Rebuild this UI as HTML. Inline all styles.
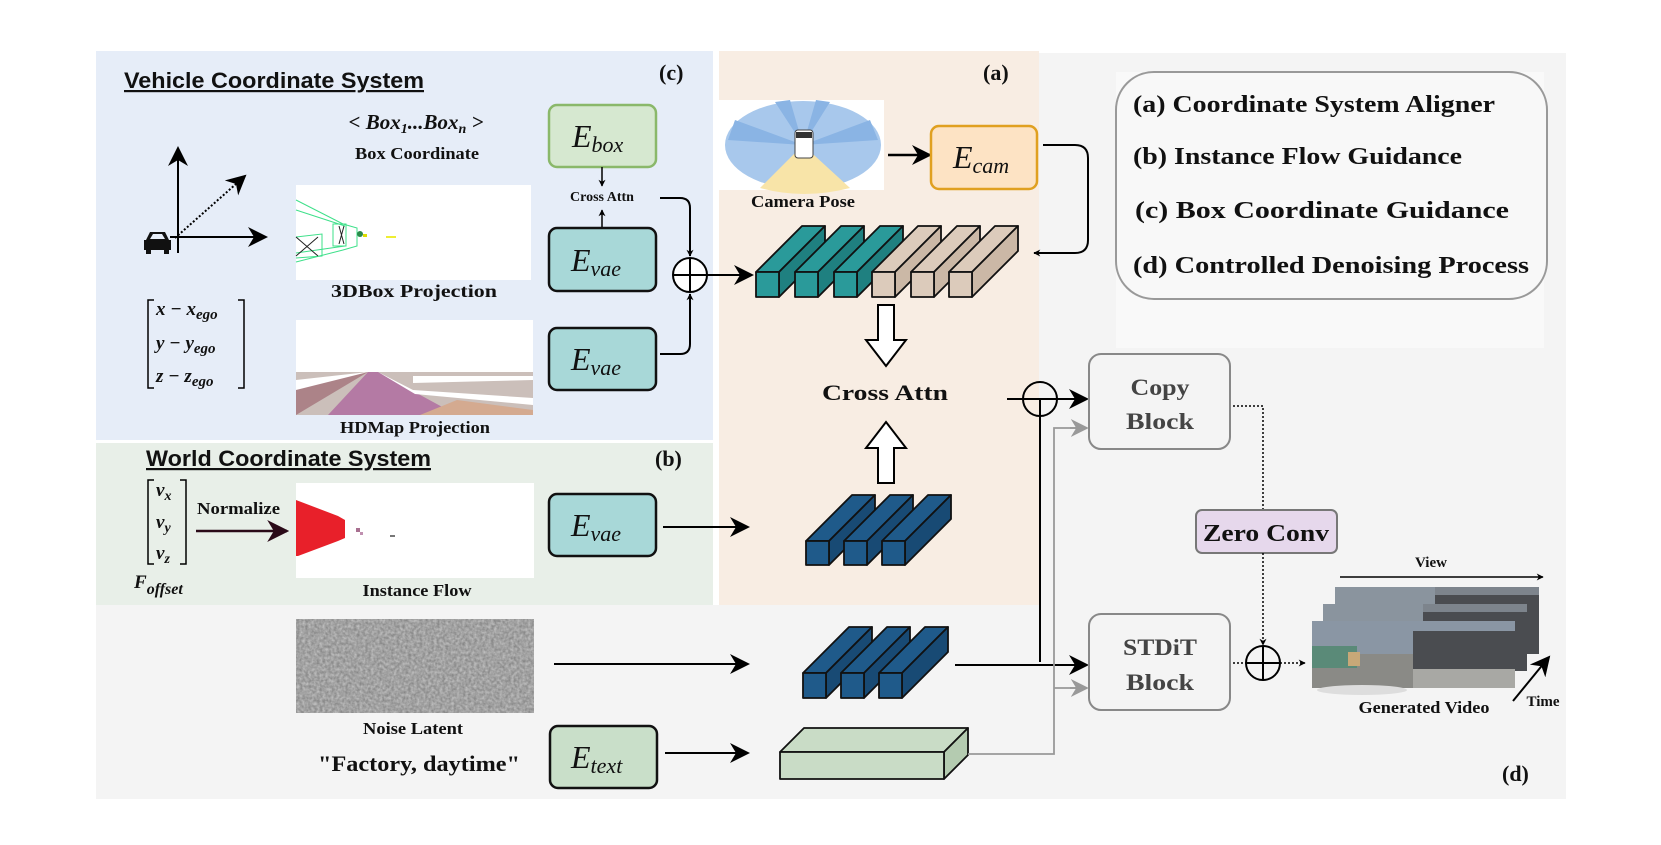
<!DOCTYPE html>
<html><head><meta charset="utf-8"><style>
html,body{margin:0;padding:0;background:#fff;}
svg{display:block;}
text{font-family:"Liberation Serif",serif;font-weight:bold;fill:#111;}
.e{font-style:italic;font-weight:normal;font-size:32px;}
.s{font-family:"Liberation Sans",sans-serif;font-weight:bold;text-decoration:underline;font-size:22px;}
</style></head><body>
<svg width="1661" height="845" viewBox="0 0 1661 845" xmlns="http://www.w3.org/2000/svg">
<defs>
<marker id="ar" viewBox="0 0 10 10" refX="9" refY="5" markerWidth="7" markerHeight="7" orient="auto" markerUnits="userSpaceOnUse"><path d="M0,0 L10,5 L0,10 L3,5z" fill="#000"/></marker>
<marker id="ab" viewBox="0 0 10 10" refX="9" refY="5" markerWidth="20" markerHeight="20" orient="auto" markerUnits="userSpaceOnUse"><path d="M0,0 L10,5 L0,10 L3,5z" fill="#000"/></marker>
<marker id="ag" viewBox="0 0 10 10" refX="9" refY="5" markerWidth="18" markerHeight="18" orient="auto" markerUnits="userSpaceOnUse"><path d="M0,0 L10,5 L0,10 L3,5z" fill="#999"/></marker>
<marker id="am" viewBox="0 0 10 10" refX="9" refY="5" markerWidth="22" markerHeight="22" orient="auto" markerUnits="userSpaceOnUse"><path d="M0,0 L10,5 L0,10 L3,5z" fill="#2a0a18"/></marker>
<filter id="nz" x="0" y="0" width="100%" height="100%"><feTurbulence type="fractalNoise" baseFrequency="0.35" numOctaves="2" seed="3"/><feColorMatrix type="matrix" values="0 0 0 0 0.5  0 0 0 0 0.5  0 0 0 0 0.5  1.6 0 0 0 -0.3"/></filter>
</defs>

<rect x="1039" y="53" width="527" height="746" fill="#f4f4f4"/>
<rect x="96" y="605" width="943" height="194" fill="#f4f4f4"/>
<rect x="96" y="51" width="617" height="389" fill="#e6edf8"/>
<rect x="96" y="443" width="617" height="162" fill="#e8efe8"/>
<rect x="719" y="51" width="320" height="554" fill="#f8ede3"/>
<rect x="1116" y="72" width="428" height="276" fill="#f9f9f9"/>
<rect x="1116" y="72" width="431" height="227" rx="38" fill="#f8f8f8" stroke="#999" stroke-width="2"/>

<text x="1133" y="112" font-size="24" textLength="362" lengthAdjust="spacingAndGlyphs">(a) Coordinate System Aligner</text>
<text x="1133" y="164" font-size="24" textLength="329" lengthAdjust="spacingAndGlyphs">(b) Instance Flow Guidance</text>
<text x="1135" y="218" font-size="24" textLength="374" lengthAdjust="spacingAndGlyphs">(c) Box Coordinate Guidance</text>
<text x="1133" y="273" font-size="24" textLength="396" lengthAdjust="spacingAndGlyphs">(d) Controlled Denoising Process</text>

<text x="124" y="88" class="s" textLength="300" lengthAdjust="spacingAndGlyphs">Vehicle Coordinate System</text>
<text x="146" y="466" class="s" textLength="285" lengthAdjust="spacingAndGlyphs">World Coordinate System</text>
<text x="659" y="80" font-size="22">(c)</text>
<text x="655" y="466" font-size="22">(b)</text>
<text x="983" y="80" font-size="22">(a)</text>
<text x="1502" y="781" font-size="22">(d)</text>

<line x1="178" y1="253" x2="178" y2="148" stroke="#000" stroke-width="2" marker-end="url(#ab)"/>
<line x1="170" y1="237" x2="266" y2="237" stroke="#000" stroke-width="2" marker-end="url(#ab)"/>
<line x1="175" y1="238" x2="245" y2="176" stroke="#000" stroke-width="2" stroke-dasharray="2,2" marker-end="url(#ab)"/>
<g fill="#111"><path d="M146,240 L150,232 L165,232 L169,240 L171,240 L171,250 L144,250 L144,240z"/><rect x="146" y="250" width="5" height="4"/><rect x="164" y="250" width="5" height="4"/></g>
<path d="M150,239 L153,234 L162,234 L165,239z" fill="#e6edf8"/>

<path d="M154,300 h-6 v88 h6 M238,300 h6 v88 h-6" fill="none" stroke="#000" stroke-width="1.5"/>
<g font-style="italic">
<text x="156" y="315" font-weight="normal" font-size="19">x − x<tspan font-size="15" dy="4">ego</tspan></text>
<text x="156" y="349" font-weight="normal" font-size="19">y − y<tspan font-size="15" dy="4">ego</tspan></text>
<text x="156" y="382" font-weight="normal" font-size="19">z − z<tspan font-size="15" dy="4">ego</tspan></text>
</g>
<path d="M154,480 h-6 v84 h6 M180,480 h6 v84 h-6" fill="none" stroke="#000" stroke-width="1.5"/>
<g font-style="italic">
<text x="156" y="496" font-weight="normal" font-size="19">v<tspan font-size="14" dy="4">x</tspan></text>
<text x="156" y="528" font-weight="normal" font-size="19">v<tspan font-size="14" dy="4">y</tspan></text>
<text x="156" y="559" font-weight="normal" font-size="19">v<tspan font-size="14" dy="4">z</tspan></text>
<text x="134" y="588" font-weight="normal" font-size="19">F<tspan font-size="16" dy="6">offset</tspan></text>
</g>
<text x="197" y="514" font-size="17" textLength="83" lengthAdjust="spacingAndGlyphs">Normalize</text>
<line x1="196" y1="531" x2="287" y2="531" stroke="#2a0a18" stroke-width="2.5" marker-end="url(#am)"/>

<text x="416" y="129" font-size="21" font-style="italic" font-weight="normal" text-anchor="middle">&lt; Box<tspan font-size="14" dy="4">1</tspan><tspan dy="-4">...Box</tspan><tspan font-size="14" dy="4">n</tspan><tspan dy="-4"> &gt;</tspan></text>
<text x="417" y="159" font-size="17" text-anchor="middle" textLength="124" lengthAdjust="spacingAndGlyphs">Box Coordinate</text>

<rect x="296" y="185" width="235" height="95" fill="#fff"/>
<g stroke="#3ee08a" stroke-width="1" fill="none">
<path d="M296,200 L343,224 L357,228 L357,246 L343,250 L296,262"/>
<path d="M296,210 L345,226 M296,253 L345,246 M296,237 L322,234 L322,256 L296,258"/>
<rect x="333" y="224" width="13" height="22"/>
</g>
<path d="M296,237 L318,256 M296,256 L318,237 M339,226 L344,244 M344,226 L339,244" stroke="#222" stroke-width="1"/>
<circle cx="360" cy="234" r="3" fill="#2a8a4a"/><rect x="363" y="234" width="4" height="3" fill="#dd0"/>
<rect x="386" y="236" width="10" height="2" fill="#ee3"/>
<text x="414" y="297" font-size="18" text-anchor="middle" textLength="166" lengthAdjust="spacingAndGlyphs">3DBox Projection</text>

<rect x="296" y="320" width="237" height="95" fill="#fff"/>
<path d="M296,372 L533,372 L533,415 L296,415z" fill="#cbbfba"/>
<path d="M296,382 L368,372 L296,415z" fill="#ac8388"/>
<path d="M296,380 L368,372 L296,390z" fill="#fff"/>
<path d="M328,415 L368,372 L378,372 L457,415z" fill="#b47aa4"/>
<path d="M420,415 L457,400 L533,410 L533,415z" fill="#d4aa90"/>
<path d="M378,372 L413,390 L533,398 L533,405 L415,394z" fill="#fff"/>
<path d="M413,376 L533,376 L533,380 L413,383z" fill="#fff"/>
<text x="415" y="433" font-size="17" text-anchor="middle" textLength="150" lengthAdjust="spacingAndGlyphs">HDMap Projection</text>

<rect x="296" y="483" width="238" height="95" fill="#fff"/>
<path d="M296,500 L338,516 L345,520 L345,538 L338,541 L298,556 L296,556z" fill="#e8202a"/>
<rect x="356" y="528" width="4" height="4" fill="#a87090"/><rect x="360" y="532" width="3" height="3" fill="#c090b0"/>
<rect x="390" y="535" width="5" height="2" fill="#777"/>
<text x="417" y="596" font-size="17" text-anchor="middle" textLength="109" lengthAdjust="spacingAndGlyphs">Instance Flow</text>

<rect x="296" y="619" width="238" height="94" fill="#888"/>
<rect x="296" y="619" width="238" height="94" filter="url(#nz)"/>
<text x="413" y="734" font-size="17" text-anchor="middle" textLength="100" lengthAdjust="spacingAndGlyphs">Noise Latent</text>
<text x="419" y="771" font-size="22" text-anchor="middle" textLength="202" lengthAdjust="spacingAndGlyphs">"Factory, daytime"</text>

<rect x="549" y="105" width="107" height="62" rx="8" fill="#d6e8d0" stroke="#8ab86a" stroke-width="2.5"/>
<text x="572" y="147" class="e">E<tspan font-size="22" dy="5">box</tspan></text>
<line x1="602" y1="167" x2="602" y2="186" stroke="#000" stroke-width="1.5" marker-end="url(#ar)"/>
<text x="602" y="201" font-size="14" text-anchor="middle">Cross Attn</text>
<line x1="602" y1="228" x2="602" y2="210" stroke="#000" stroke-width="1.5" marker-end="url(#ar)"/>
<rect x="549" y="228" width="107" height="63" rx="8" fill="#a8d8d8" stroke="#111" stroke-width="2.5"/>
<text x="571" y="271" class="e">E<tspan font-size="22" dy="5">vae</tspan></text>
<rect x="549" y="328" width="107" height="62" rx="8" fill="#a8d8d8" stroke="#111" stroke-width="2.5"/>
<text x="571" y="370" class="e">E<tspan font-size="22" dy="5">vae</tspan></text>
<rect x="549" y="494" width="107" height="62" rx="8" fill="#a8d8d8" stroke="#111" stroke-width="2.5"/>
<text x="571" y="536" class="e">E<tspan font-size="22" dy="5">vae</tspan></text>
<rect x="550" y="726" width="107" height="62" rx="8" fill="#c9dfc9" stroke="#111" stroke-width="2.5"/>
<text x="571" y="768" class="e">E<tspan font-size="22" dy="5">text</tspan></text>

<path d="M660,198 L680,198 Q690,198 690,208 L690,256" fill="none" stroke="#000" stroke-width="2" marker-end="url(#ar)"/>
<path d="M660,354 L680,354 Q690,354 690,344 L690,294" fill="none" stroke="#000" stroke-width="2" marker-end="url(#ar)"/>
<circle cx="690" cy="275" r="17" fill="#fff" stroke="#000" stroke-width="2"/>
<path d="M673,275 h34 M690,258 v34" stroke="#000" stroke-width="2"/>
<line x1="707" y1="275" x2="752" y2="275" stroke="#000" stroke-width="2" marker-end="url(#ab)"/>
<line x1="663" y1="527" x2="748" y2="527" stroke="#000" stroke-width="2" marker-end="url(#ab)"/>
<line x1="554" y1="664" x2="748" y2="664" stroke="#000" stroke-width="2" marker-end="url(#ab)"/>
<line x1="665" y1="753" x2="748" y2="753" stroke="#000" stroke-width="2" marker-end="url(#ab)"/>

<rect x="718" y="100" width="166" height="90" fill="#fff"/>
<ellipse cx="803" cy="145" rx="78" ry="44" fill="#a8c8ec"/>
<path d="M803,145 L760,188 Q803,200 850,188z" fill="#f8e4a8"/>
<path d="M803,145 L735,120 L728,140z M803,145 L870,120 L878,140z M803,145 L775,102 L790,100z M803,145 L830,102 L816,100z" fill="#8ab4e4"/>
<rect x="795" y="130" width="18" height="28" rx="3" fill="#fff" stroke="#444"/>
<rect x="796" y="132" width="16" height="6" fill="#333"/>
<text x="803" y="207" font-size="17" text-anchor="middle" textLength="104" lengthAdjust="spacingAndGlyphs">Camera Pose</text>
<line x1="888" y1="155" x2="930" y2="155" stroke="#000" stroke-width="2.5" marker-end="url(#ab)"/>
<rect x="931" y="126" width="106" height="63" rx="8" fill="#fde3c4" stroke="#e0a020" stroke-width="2.5"/>
<text x="953" y="168" class="e">E<tspan font-size="22" dy="5">cam</tspan></text>
<path d="M1043,145 L1075,145 Q1088,145 1088,158 L1088,240 Q1088,253 1075,253 L1034,253" fill="none" stroke="#000" stroke-width="2" marker-end="url(#ar)"/>

<g stroke="#111" stroke-width="1.8" stroke-linejoin="round">
<g fill="#2a9a9a"><path d="M756,272 l46,-46 h23 l-46,46z"/><path d="M779,272 l46,-46 v25 l-46,46z" fill="#1f8080"/><rect x="756" y="272" width="23" height="25"/></g>
<g fill="#2a9a9a"><path d="M795,272 l46,-46 h23 l-46,46z"/><path d="M818,272 l46,-46 v25 l-46,46z" fill="#1f8080"/><rect x="795" y="272" width="23" height="25"/></g>
<g fill="#2a9a9a"><path d="M834,272 l46,-46 h23 l-46,46z"/><path d="M857,272 l46,-46 v25 l-46,46z" fill="#1f8080"/><rect x="834" y="272" width="23" height="25"/></g>
<g fill="#dccbbb"><path d="M872,272 l46,-46 h23 l-46,46z"/><path d="M895,272 l46,-46 v25 l-46,46z" fill="#cbb8a6"/><rect x="872" y="272" width="23" height="25"/></g>
<g fill="#dccbbb"><path d="M911,272 l46,-46 h23 l-46,46z"/><path d="M934,272 l46,-46 v25 l-46,46z" fill="#cbb8a6"/><rect x="911" y="272" width="23" height="25"/></g>
<g fill="#dccbbb"><path d="M949,272 l46,-46 h23 l-46,46z"/><path d="M972,272 l46,-46 v25 l-46,46z" fill="#cbb8a6"/><rect x="949" y="272" width="23" height="25"/></g>
<g fill="#1f5a8a"><path d="M806,541 l46,-46 h23 l-46,46z"/><path d="M829,541 l46,-46 v24 l-46,46z" fill="#184a74"/><rect x="806" y="541" width="23" height="24"/></g>
<g fill="#1f5a8a"><path d="M844,541 l46,-46 h23 l-46,46z"/><path d="M867,541 l46,-46 v24 l-46,46z" fill="#184a74"/><rect x="844" y="541" width="23" height="24"/></g>
<g fill="#1f5a8a"><path d="M882,541 l46,-46 h23 l-46,46z"/><path d="M905,541 l46,-46 v24 l-46,46z" fill="#184a74"/><rect x="882" y="541" width="23" height="24"/></g>
<g fill="#1f5a8a"><path d="M803,673 l46,-46 h23 l-46,46z"/><path d="M826,673 l46,-46 v25 l-46,46z" fill="#184a74"/><rect x="803" y="673" width="23" height="25"/></g>
<g fill="#1f5a8a"><path d="M841,673 l46,-46 h23 l-46,46z"/><path d="M864,673 l46,-46 v25 l-46,46z" fill="#184a74"/><rect x="841" y="673" width="23" height="25"/></g>
<g fill="#1f5a8a"><path d="M879,673 l46,-46 h23 l-46,46z"/><path d="M902,673 l46,-46 v25 l-46,46z" fill="#184a74"/><rect x="879" y="673" width="23" height="25"/></g>
<g fill="#c9dcc6"><path d="M780,752 l24,-24 h164 l-24,24z"/><path d="M944,752 l24,-24 v27 l-24,24z" fill="#b4cbb0"/><rect x="780" y="752" width="164" height="27"/></g>
</g>

<path d="M878,305 h16 v35 h12 l-20,26 l-20,-26 h12z" fill="#fff" stroke="#000" stroke-width="2"/>
<path d="M878,483 h16 v-35 h12 l-20,-26 l-20,26 h12z" fill="#fff" stroke="#000" stroke-width="2"/>
<text x="885" y="400" font-size="22" text-anchor="middle" textLength="126" lengthAdjust="spacingAndGlyphs">Cross Attn</text>

<line x1="1007" y1="399" x2="1087" y2="399" stroke="#000" stroke-width="2" marker-end="url(#ab)"/>
<line x1="1040" y1="399" x2="1040" y2="662" stroke="#000" stroke-width="2"/>
<circle cx="1040" cy="399" r="17" fill="none" stroke="#000" stroke-width="2"/>
<line x1="1023" y1="399" x2="1057" y2="399" stroke="#000" stroke-width="2"/>
<line x1="955" y1="665" x2="1087" y2="665" stroke="#000" stroke-width="2" marker-end="url(#ab)"/>
<path d="M968,754 L1054,754 L1054,428 L1087,428 M1054,688 L1087,688" fill="none" stroke="#999" stroke-width="1.8"/>
<line x1="1070" y1="428" x2="1087" y2="428" stroke="#999" stroke-width="1.8" marker-end="url(#ag)"/>
<line x1="1070" y1="688" x2="1087" y2="688" stroke="#999" stroke-width="1.8" marker-end="url(#ag)"/>

<rect x="1089" y="354" width="141" height="95" rx="12" fill="#f4f4f4" stroke="#888" stroke-width="2"/>
<text x="1160" y="395" font-size="23" text-anchor="middle" style="fill:#444" textLength="59" lengthAdjust="spacingAndGlyphs">Copy</text>
<text x="1160" y="429" font-size="23" text-anchor="middle" style="fill:#444" textLength="68" lengthAdjust="spacingAndGlyphs">Block</text>
<rect x="1089" y="614" width="141" height="96" rx="12" fill="#f4f4f4" stroke="#888" stroke-width="2"/>
<text x="1160" y="655" font-size="23" text-anchor="middle" style="fill:#444" textLength="74" lengthAdjust="spacingAndGlyphs">STDiT</text>
<text x="1160" y="690" font-size="23" text-anchor="middle" style="fill:#444" textLength="68" lengthAdjust="spacingAndGlyphs">Block</text>

<path d="M1233,406 L1263,406 L1263,510" fill="none" stroke="#000" stroke-width="1.5" stroke-dasharray="2,2"/>
<rect x="1196" y="510" width="141" height="43" rx="6" fill="#e6d8ec" stroke="#777" stroke-width="2"/>
<text x="1266" y="541" font-size="24" text-anchor="middle" textLength="126" lengthAdjust="spacingAndGlyphs">Zero Conv</text>
<line x1="1263" y1="553" x2="1263" y2="645" stroke="#000" stroke-width="1.5" stroke-dasharray="2,2" marker-end="url(#ar)"/>
<line x1="1233" y1="663" x2="1246" y2="663" stroke="#000" stroke-width="1.5" stroke-dasharray="2,2"/>
<circle cx="1263" cy="663" r="17" fill="none" stroke="#000" stroke-width="2"/>
<path d="M1246,663 h34 M1263,646 v34" stroke="#000" stroke-width="2"/>
<line x1="1280" y1="663" x2="1305" y2="663" stroke="#000" stroke-width="1.5" stroke-dasharray="2,2" marker-end="url(#ar)"/>

<g>
<rect x="1335" y="587" width="204" height="67" fill="#7d848c"/>
<rect x="1335" y="587" width="100" height="67" fill="#8a949e"/>
<rect x="1435" y="595" width="104" height="59" fill="#4a4c50"/>
<rect x="1323" y="604" width="204" height="67" fill="#7d848c"/>
<rect x="1323" y="604" width="100" height="67" fill="#8a949e"/>
<rect x="1423" y="612" width="104" height="59" fill="#4a4c50"/>
<rect x="1312" y="621" width="203" height="67" fill="#8a96a4"/>
<rect x="1312" y="654" width="203" height="34" fill="#8a8a86"/>
<rect x="1312" y="646" width="45" height="22" fill="#5a8a78"/>
<rect x="1348" y="652" width="12" height="14" fill="#c8a878"/>
<rect x="1413" y="631" width="102" height="38" fill="#4a4c50"/>
<rect x="1413" y="669" width="102" height="19" fill="#a8a8a4"/>
<ellipse cx="1362" cy="690" rx="45" ry="5" fill="#ddd"/>
</g>
<line x1="1340" y1="577" x2="1543" y2="577" stroke="#000" stroke-width="1.5" marker-end="url(#ar)"/>
<text x="1431" y="567" font-size="15" text-anchor="middle">View</text>
<line x1="1513" y1="701" x2="1549" y2="657" stroke="#000" stroke-width="2" marker-end="url(#ab)"/>
<text x="1543" y="706" font-size="15" text-anchor="middle">Time</text>
<text x="1424" y="713" font-size="17" text-anchor="middle" textLength="131" lengthAdjust="spacingAndGlyphs">Generated Video</text>
</svg>
</body></html>
